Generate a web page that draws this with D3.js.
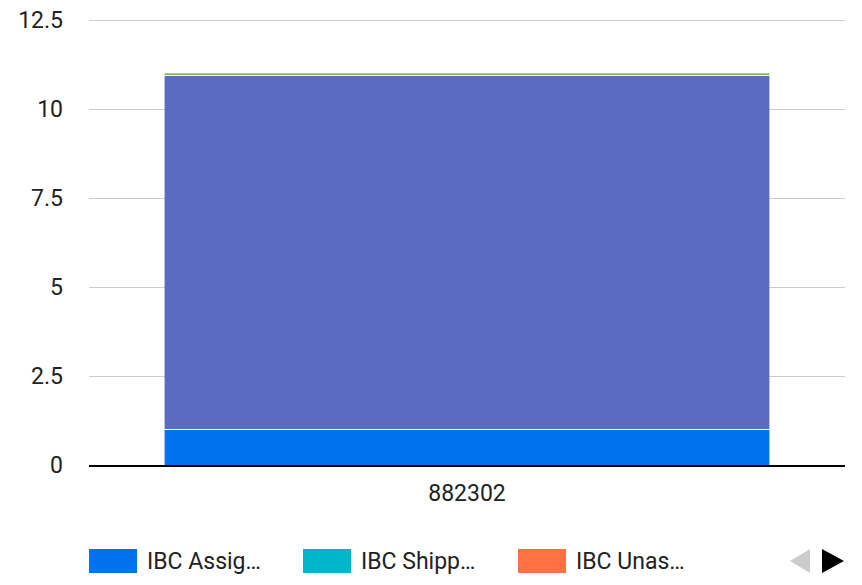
<!DOCTYPE html>
<html>
<head>
<meta charset="utf-8">
<script src="https://cdn.jsdelivr.net/npm/d3@7"></script>
<style>
  body { margin: 0; background: #fff; }
  text { font-family: Roboto, "Noto Sans", sans-serif; fill: #222; }
</style>
</head>
<body>
<div id="chart"></div>
<script>
// data
const categories = ["882302"];
const seriesNames = ["IBC Assigned", "IBC Shipped", "IBC Unassigned", "IBC Available", "IBC Received"];
const seriesColors = ["#0072f0", "#00b6cb", "#ff7043", "#5c6bc0", "#7cb342"];
const seriesValues = [[1], [0], [0], [9.95], [0.05]];
const yTicks = [0, 2.5, 5, 7.5, 10, 12.5];

const W = 862, H = 585;
const m = { left: 89, right: 17, top: 20, bottom: 120 };

let rows = categories.map(function (c, i) {
    let r = { cat: c };
    seriesNames.forEach(function (s, j) { r[s] = seriesValues[j][i]; });
    return r;
});
let stacked = d3.stack().keys(seriesNames)(rows);

let svg = d3.select("#chart").append("svg")
    .attr("width", W)
    .attr("height", H);

let x = d3.scaleBand().domain(categories)
    .range([m.left, W - m.right])
    .paddingInner(0.2).paddingOuter(0.1);
let y = d3.scaleLinear().domain([0, 12.5]).range([H - m.bottom, m.top]);

// grid
svg.append("g").selectAll("line").data(yTicks.filter(d => d > 0)).enter().append("line")
    .attr("x1", m.left).attr("x2", W - m.right)
    .attr("y1", d => Math.round(y(d)) + 0.5).attr("y2", d => Math.round(y(d)) + 0.5)
    .attr("stroke", "#cccccc");

// y labels
svg.append("g").selectAll("text").data(yTicks).enter().append("text")
    .attr("x", 63)
    .attr("y", d => y(d))
    .attr("dy", "0.36em")
    .attr("text-anchor", "end")
    .style("font-size", "23px")
    .text(d => d);

// bars
let capas = svg.append("g").selectAll("g").data(stacked).enter().append("g")
    .attr("fill", (d, i) => seriesColors[i]);
capas.selectAll("rect").data(d => d.filter(p => p[1] > p[0])).enter().append("rect")
    .attr("x", d => x(d.data.cat))
    .attr("width", x.bandwidth())
    .attr("y", d => y(d[1]))
    .attr("height", d => Math.max(1, y(d[0]) - y(d[1])));

// white separators between segments
let tops = [];
stacked.forEach(function (s) {
    s.forEach(function (p) { if (p[1] > p[0] && p[0] > 0) tops.push({ cat: p.data.cat, v: p[0] }); });
});
svg.append("g").selectAll("line").data(tops).enter().append("line")
    .attr("x1", d => x(d.cat)).attr("x2", d => x(d.cat) + x.bandwidth())
    .attr("y1", d => Math.round(y(d.v)) + 0.5).attr("y2", d => Math.round(y(d.v)) + 0.5)
    .attr("stroke", "#fff").attr("stroke-width", 1);

// baseline
svg.append("line")
    .attr("x1", m.left).attr("x2", W - m.right)
    .attr("y1", y(0) + 1).attr("y2", y(0) + 1)
    .attr("stroke", "#000").attr("stroke-width", 2);

// x labels
svg.append("g").selectAll("text").data(categories).enter().append("text")
    .attr("x", d => x(d) + x.bandwidth() / 2)
    .attr("y", 493)
    .attr("dy", "0.36em")
    .attr("text-anchor", "middle")
    .style("font-size", "23px")
    .text(d => d);

// legend (first page)
let legX = [89, 303, 518];
let leg = svg.append("g").selectAll("g").data(seriesNames.slice(0, 3)).enter().append("g")
    .attr("transform", (d, i) => "translate(" + legX[i] + ",549)");
leg.append("rect").attr("width", 48).attr("height", 24)
    .attr("fill", (d, i) => seriesColors[i]);
leg.append("text")
    .attr("x", 58).attr("y", 12).attr("dy", "0.36em")
    .style("font-size", "23px")
    .text(d => d)
    .each(function (d) {
        let t = d3.select(this);
        let s = d;
        while (this.getComputedTextLength() > 120 && s.length > 1) {
            s = s.slice(0, -1);
            t.text(s.trimEnd() + "…");
        }
    });

// pager arrows
svg.append("path").attr("d", "M810,549 L810,573 L790,561 Z").attr("fill", "#cccccc");
svg.append("path").attr("d", "M822,549 L822,573 L844,561 Z").attr("fill", "#000");
</script>
</body>
</html>
